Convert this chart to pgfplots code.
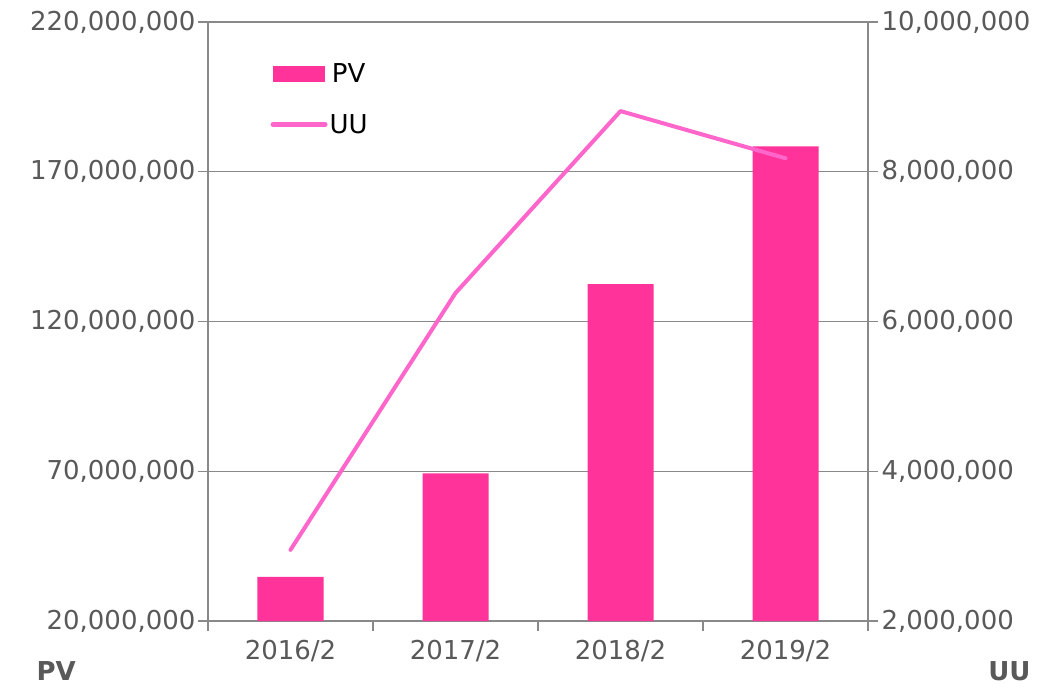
\documentclass[border=0pt]{standalone}
\usepackage{pgfplots}
\pgfplotsset{compat=1.18}
\usepackage{fontspec}
\setmainfont{DejaVu Sans}
\definecolor{barpink}{HTML}{FF3399}
\definecolor{linepink}{HTML}{FF66CC}
\definecolor{axgray}{HTML}{898989}
\definecolor{txtgray}{HTML}{595959}
\begin{document}
\begin{tikzpicture}
\pgfplotsset{
  every axis/.append style={
    scale only axis, width=660pt, height=599pt,
    xmin=-0.5, xmax=3.5,
    font=\fontsize{26}{30}\selectfont,
    /pgf/number format/assume math mode=true,
    /pgf/number format/.cd, fixed, precision=0, 1000 sep={,},
  },
}
\begin{axis}[
  name=ax,
  ymin=20000000, ymax=220000000,
  ytick={20000000,70000000,120000000,170000000,220000000},
  scaled y ticks=false,
  axis y line*=left,
  axis x line*=bottom,
  xtick={0,1,2,3},
  xticklabels={2016/2,2017/2,2018/2,2019/2},
  major x tick style={draw=none},
  minor xtick={-0.5,0.5,1.5,2.5,3.5},
  minor tick length=10pt,
  major tick length=10pt,
  tick align=outside,
  tick style={axgray, line width=1.2pt},
  axis line style={axgray, line width=1.2pt},
  ymajorgrids,
  grid style={axgray, line width=1.2pt},
  ticklabel style={text=txtgray},
  yticklabel style={xshift=1pt},
  xticklabel style={yshift=-6pt},
  legend style={draw=none, fill=none, at={(0.09,0.937)}, anchor=north west,
    font=\fontsize{26}{30}\selectfont, row sep=26pt,
    /tikz/every even column/.append style={column sep=2pt}},
  legend image code/.code={\fill[barpink] (0pt,-8pt) rectangle (52pt,8pt);},
  clip=false,
]
\addplot[ybar, bar width=66pt, fill=barpink, draw=none] coordinates {
  (0,34700000) (1,69300000) (2,132500000) (3,178500000)
};
\addlegendentry{PV}
\addlegendimage{legend image code/.code={\draw[linepink, line width=5pt, line cap=round] (0pt,0pt) -- (52pt,0pt);}}
\addlegendentry{UU}
\node[anchor=base west, font=\fontsize{26}{30}\selectfont\bfseries, text=txtgray] at (axis description cs:-0.265,-0.1) {PV};
\node[anchor=base west, font=\fontsize{26}{30}\selectfont\bfseries, text=txtgray] at (axis description cs:1.177,-0.1) {UU};
\end{axis}
\begin{axis}[
  ymin=2000000, ymax=10000000,
  ytick={2000000,4000000,6000000,8000000,10000000},
  scaled y ticks=false,
  axis y line*=right,
  axis x line=none,
  tick align=outside,
  major tick length=10pt,
  tick style={axgray, line width=1.2pt},
  axis line style={axgray, line width=1.2pt},
  ticklabel style={text=txtgray},
  yticklabel style={xshift=0pt},
]
\addplot[linepink, line width=4pt, line cap=round, line join=round, mark=none] coordinates {
  (0,2950000) (1,6380000) (2,8810000) (3,8180000)
};
\end{axis}
\pgfresetboundingbox
\path (ax.south west) ++(-208pt,-66pt) coordinate (bl);
\path (ax.north east) ++(182pt,22pt) coordinate (tr);
\path (bl) rectangle (tr);
\end{tikzpicture}
\end{document}
